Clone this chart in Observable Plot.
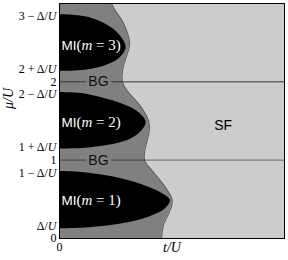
<!DOCTYPE html>
<html><head><meta charset="utf-8">
<script src="https://cdn.jsdelivr.net/npm/d3@7"></script>
<script src="https://cdn.jsdelivr.net/npm/@observablehq/plot@0.6"></script>
<style>body{margin:0;background:#fff}</style>
</head><body><div id="chart"></div>
<script>
const delta = 0.16;
const yTickValues = [0, delta, 1 - delta, 1, 1 + delta, 2 - delta, 2, 2 + delta, 3 - delta];
const yTickLabels = ["0", "Δ/U", "1 − Δ/U", "1", "1 + Δ/U", "2 − Δ/U", "2", "2 + Δ/U", "3 − Δ/U"];

// Mott lobes: μ/U values and their t/U extent
const lobe1Mu = [0.124, 0.127, 0.136, 0.187, 0.272, 0.379, 0.484, 0.548, 0.654, 0.761, 0.832, 0.848, 0.854];
const lobe1T  = [0, 0.07, 0.130, 0.279, 0.397, 0.471, 0.493, 0.471, 0.397, 0.279, 0.130, 0.07, 0];
const lobe2Mu = [1.143, 1.146, 1.156, 1.228, 1.335, 1.482, 1.610, 1.717, 1.836, 1.857, 1.865];
const lobe2T  = [0, 0.07, 0.130, 0.279, 0.352, 0.385, 0.352, 0.279, 0.130, 0.07, 0];
const lobe3Mu = [2.133, 2.137, 2.154, 2.206, 2.291, 2.438, 2.609, 2.737, 2.821, 2.848, 2.855];
const lobe3T  = [0, 0.07, 0.130, 0.204, 0.264, 0.296, 0.264, 0.204, 0.130, 0.07, 0];

// Bose glass / superfluid boundary
const boundaryMu = [0, 0.191, 0.319, 0.484, 0.654, 0.867, 0.994, 1.122, 1.249, 1.419, 1.546, 1.721, 1.887, 2.014, 2.184, 2.311, 2.460, 2.566, 2.779, 2.906, 3.0];
const boundaryT  = [0.453, 0.464, 0.486, 0.501, 0.471, 0.412, 0.379, 0.379, 0.390, 0.400, 0.390, 0.352, 0.301, 0.279, 0.283, 0.296, 0.311, 0.308, 0.279, 0.249, 0.231];

const lobeNames = ["MI(m = 1)", "MI(m = 2)", "MI(m = 3)"];
const lobeLabelMu = [0.484, 1.482, 2.46];
const bgLevels = [1, 2];
const bgLabelT = 0.173;
const sfLabel = {t: 0.727, mu: 1.44, text: "SF"};

const lobes = [];
[[lobe1Mu, lobe1T], [lobe2Mu, lobe2T], [lobe3Mu, lobe3T]].forEach(([mus, ts], k) => {
  mus.forEach((mu, i) => lobes.push({m: k + 1, mu, t: ts[i]}));
});
const boundary = boundaryMu.map((mu, i) => ({mu, t: boundaryT[i]}));
const lobeLabels = lobeNames.map((name, i) => ({name, mu: lobeLabelMu[i]}));

const SANS = "Liberation Sans, Arial, sans-serif";
const SERIF = "Liberation Serif, DejaVu Serif, serif";

const chart = Plot.plot({
  width: 288, height: 260,
  marginLeft: 59, marginRight: 4, marginTop: 3, marginBottom: 22,
  x: {domain: [0, 1]},
  y: {domain: [0, 3]},
  style: {fontFamily: SERIF, background: "white", fontSize: "11px"},
  marks: [
    Plot.frame({fill: "#cccccc"}),
    Plot.areaX(boundary, {y: "mu", x1: 0, x2: "t", fill: "#808080", curve: "catmull-rom", clip: true}),
    Plot.lineY(boundary, {y: "mu", x: "t", stroke: "#333", strokeWidth: 0.8, curve: "catmull-rom", clip: true}),
    Plot.areaX(lobes, {y: "mu", x1: 0, x2: "t", z: "m", fill: "black", curve: "catmull-rom", clip: true}),
    Plot.ruleY([2], {stroke: "#333", strokeWidth: 1}),
    Plot.ruleY([1], {stroke: "black", strokeOpacity: 0.4, strokeWidth: 1.3}),
    Plot.text(bgLevels, {x: bgLabelT, y: d => d, text: () => "BG", fill: "#111", stroke: "#808080", strokeWidth: 7, fontSize: 14, fontFamily: SANS}),
    Plot.text(lobeLabels, {x: 0, y: "mu", text: "name", textAnchor: "start", dx: 2, fill: "white", fontSize: 13.5, fontFamily: SANS}),
    Plot.text([sfLabel], {x: "t", y: "mu", text: "text", fill: "black", fontSize: 14, fontFamily: SANS}),
    Plot.frame({stroke: "black", strokeWidth: 1}),
    Plot.axisY({ticks: yTickValues, tickFormat: d => yTickLabels[yTickValues.indexOf(d)], tickSize: 0, tickPadding: 3, label: null}),
    Plot.axisX({ticks: [0], tickFormat: d => "0", tickSize: 0, tickPadding: 4, label: null}),
    Plot.text(["t/U"], {frameAnchor: "bottom", dy: 13, fontSize: 14, fontStyle: "italic", fontFamily: SERIF, fill: "black"}),
    Plot.text(["μ/U"], {frameAnchor: "left", dx: -51, dy: -12, rotate: -90, fontSize: 14, fontStyle: "italic", fontFamily: SERIF, fill: "black"})
  ]
});
document.getElementById("chart").appendChild(chart);

// axis tick label font
d3.select(chart).selectAll('g[aria-label="y-axis tick label"], g[aria-label="x-axis tick label"]')
  .attr("font-size", 12).attr("font-family", SERIF);
// italic U in tick labels
d3.select(chart).selectAll('g[aria-label="y-axis tick label"] text').each(function() {
  const s = this.textContent;
  if (s.includes("U")) this.innerHTML = s.replace("U", '<tspan font-style="italic">U</tspan>');
});
// MI labels: sans "MI", serif math with italic m
d3.select(chart).selectAll("text").each(function() {
  const s = this.textContent;
  const m = /^MI\(m = (\d)\)$/.exec(s);
  if (m) {
    this.innerHTML = '<tspan font-family="' + SANS + '">MI</tspan><tspan font-family="' + SERIF + '" font-size="15">(<tspan font-style="italic">m</tspan> = ' + m[1] + ')</tspan>';
  }
});
</script>
</body></html>
